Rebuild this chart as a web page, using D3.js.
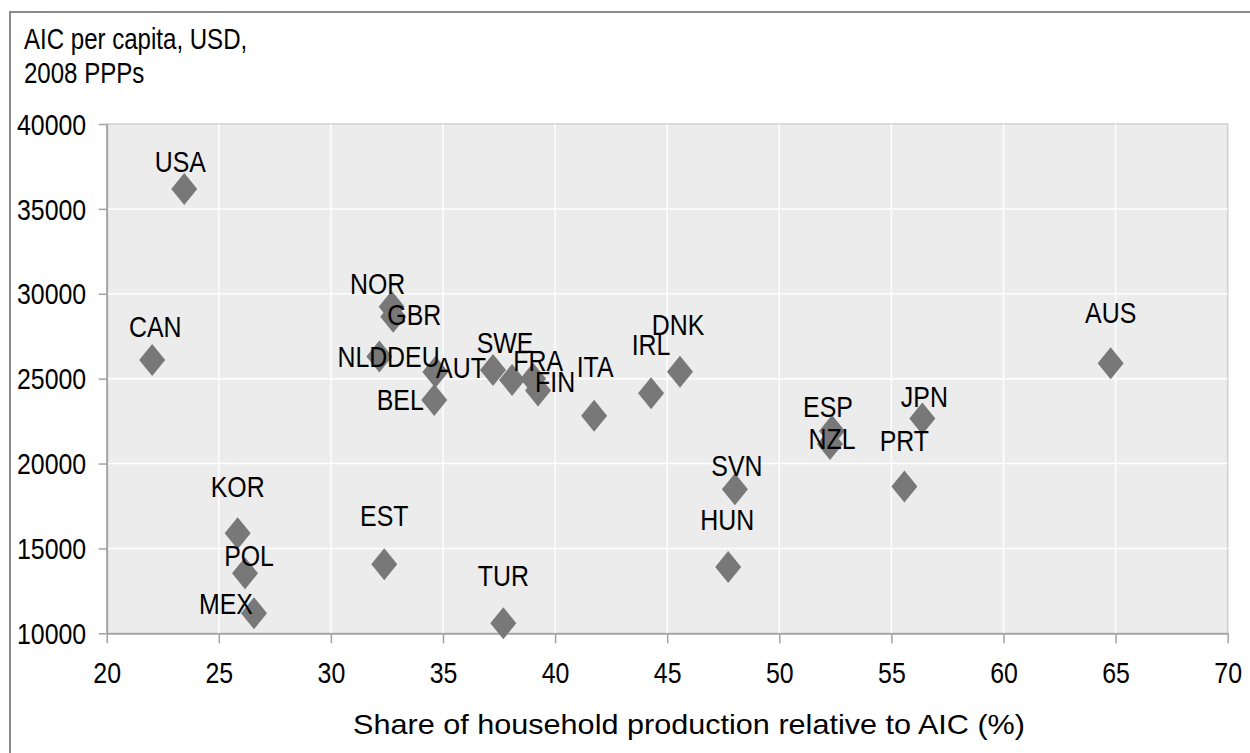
<!DOCTYPE html>
<html>
<head>
<meta charset="utf-8">
<script src="https://cdn.jsdelivr.net/npm/d3@7"></script>
<style>
  html, body { margin: 0; padding: 0; background: #fff; }
  svg { display: block; font-family: "Liberation Sans", Arial, sans-serif; }
</style>
</head>
<body>
<svg id="chart" width="1250" height="753"></svg>
<script>
// ---- Data ----
const countries = ["USA","CAN","NOR","GBR","NLD","DEU","AUT","BEL","SWE","FRA","FIN","ITA","IRL","DNK","SVN","HUN","ESP","NZL","PRT","JPN","AUS","KOR","POL","MEX","EST","TUR"];
const shareValues = [23.46, 22.03, 32.71, 32.78, 32.16, 34.66, 37.23, 34.61, 38.08, 39.02, 39.24, 41.74, 44.28, 45.57, 48.02, 47.72, 52.35, 52.26, 55.58, 56.38, 64.78, 25.84, 26.17, 26.57, 32.38, 37.69];
const aicValues   = [36170, 26100, 29240, 28650, 26300, 25390, 25510, 23740, 24920, 25000, 24300, 22820, 24140, 25410, 18480, 13900, 21920, 21150, 18640, 22660, 25900, 15890, 13530, 11180, 14060, 10590];
const xTicks = [20, 25, 30, 35, 40, 45, 50, 55, 60, 65, 70];
const yTicks = [10000, 15000, 20000, 25000, 30000, 35000, 40000];
const titleLines = ["AIC per capita, USD,", "2008 PPPs"];
const xTitle = "Share of household production relative to AIC (%)";
// label offsets (layout only, px relative to marker: [dx, dy of baseline])
const labelOffsets = {
  USA:[-4,-17], CAN:[3,-23], NOR:[-14,-13], GBR:[21,8], NLD:[-17,10], DEU:[-22,-5],
  AUT:[-32,8], BEL:[-34,10], SWE:[-7,-27], FRA:[5,-8], FIN:[17,1], ITA:[1,-39],
  IRL:[0,-38], DNK:[-2,-37], SVN:[2,-13], HUN:[-1,-37], ESP:[-4,-14], NZL:[2,5],
  PRT:[0,-36], JPN:[2,-11], AUS:[0,-40], KOR:[0,-36], POL:[4,-7], MEX:[-28,1],
  EST:[0,-38], TUR:[0,-37]
};

// ---- Layout ----
const svg = d3.select("#chart");
const L = 106.7, R = 1227.7, T = 124, B = 633.3;
const SX = 0.83; // horizontal condensing of text
const FS = 30;
const x = d3.scaleLinear().domain([20, 70]).range([L, R]);
const y = d3.scaleLinear().domain([10000, 40000]).range([B, T]);

// outer frame
svg.append("rect").attr("x", 10).attr("y", 12).attr("width", 1260).attr("height", 780)
  .attr("fill", "#fff").attr("stroke", "#8a8a8a").attr("stroke-width", 2);

// plot area
svg.append("rect").attr("x", L).attr("y", T).attr("width", R - L).attr("height", B - T)
  .attr("fill", "#ececec").attr("stroke", "#cfcfcf").attr("stroke-width", 1.5);

// gridlines
svg.append("g").selectAll("line").data(xTicks.slice(1, -1)).join("line")
  .attr("x1", d => x(d)).attr("x2", d => x(d)).attr("y1", T).attr("y2", B)
  .attr("stroke", "#fff").attr("stroke-width", 1.5);
svg.append("g").selectAll("line").data(yTicks.slice(1, -1)).join("line")
  .attr("y1", d => y(d)).attr("y2", d => y(d)).attr("x1", L).attr("x2", R)
  .attr("stroke", "#fff").attr("stroke-width", 1.5);

// axes
const xAxis = svg.append("g").attr("transform", `translate(0,${B})`)
  .call(d3.axisBottom(x).tickValues(xTicks).tickFormat(d3.format("d")).tickSize(10).tickSizeOuter(0));
const yAxis = svg.append("g").attr("transform", `translate(${L},0)`)
  .call(d3.axisLeft(y).tickValues(yTicks).tickFormat(d3.format("d")).tickSize(8).tickSizeOuter(0));
[xAxis, yAxis].forEach(g => {
  g.select(".domain").attr("stroke", "#a3a3a3").attr("stroke-width", 1.8);
  g.selectAll(".tick line").attr("stroke", "#a3a3a3").attr("stroke-width", 1.5);
  g.selectAll("text").attr("fill", "#000").style("font-size", FS + "px")
    .style("font-family", '"Liberation Sans", Arial, sans-serif');
});
xAxis.selectAll("text").attr("y", 50).attr("dy", null)
  .attr("transform", `scale(${SX},1)`);
yAxis.selectAll("text").attr("x", -20.5 / SX).attr("dy", "0.34em")
  .attr("transform", `scale(${SX},1)`);

// title
titleLines.forEach((t, i) => {
  svg.append("text").attr("transform", `translate(24,${49 + i * 34}) scale(${SX},1)`)
    .attr("font-size", 29).attr("fill", "#000").text(t);
});

// x axis title
svg.append("text").attr("x", 353).attr("y", 734).attr("font-size", 28)
  .attr("textLength", 672).attr("lengthAdjust", "spacingAndGlyphs")
  .attr("fill", "#000").text(xTitle);

// points
const pts = countries.map((c, i) => ({ c, sx: shareValues[i], ay: aicValues[i] }));
const rx = 13, ry = 16;
svg.append("g").selectAll("path").data(pts).join("path")
  .attr("d", d => {
    const cx = x(d.sx), cy = y(d.ay);
    return `M${cx},${cy - ry}L${cx + rx},${cy}L${cx},${cy + ry}L${cx - rx},${cy}Z`;
  })
  .attr("fill", "#787878");

// labels
svg.append("g").selectAll("text").data(pts).join("text")
  .attr("transform", d => {
    const o = labelOffsets[d.c];
    return `translate(${x(d.sx) + o[0]},${y(d.ay) + o[1]}) scale(${SX},1)`;
  })
  .attr("text-anchor", "middle").attr("font-size", FS).attr("fill", "#000")
  .text(d => d.c);
</script>
</body>
</html>
